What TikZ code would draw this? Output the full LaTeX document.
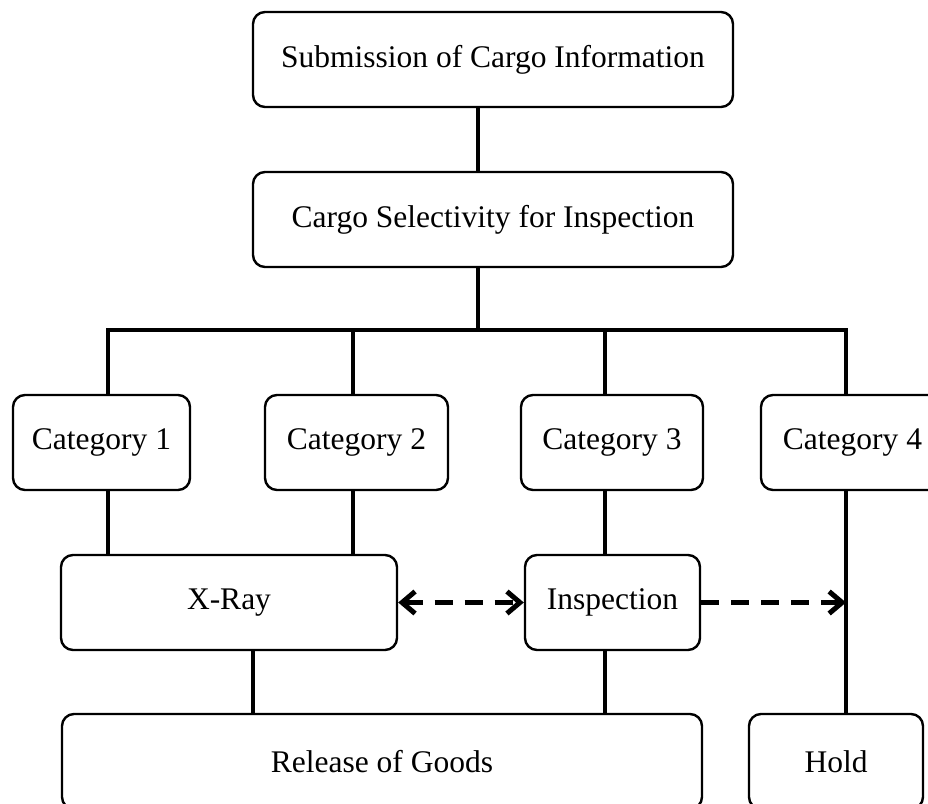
\documentclass[tikz,border=0pt]{standalone}
\usepackage{fontspec}
\setmainfont{Liberation Serif}
\usetikzlibrary{arrows.meta}

\begin{document}
\begin{tikzpicture}
  [x=1pt,y=-1pt,
  box/.style={rectangle,draw,line width=2.4pt,rounded corners=12pt,
    inner sep=0pt,minimum height=95pt,font=\fontsize{31.5}{36}\selectfont},
  link/.style={draw,line width=4.5pt},
  tip/.tip={Straight Barb[length=13pt,width=22pt,line width=5pt,sharp]},
  hop/.style={draw,line width=5pt,dash pattern=on 18pt off 12pt,-tip}]

  \useasboundingbox (0,0) rectangle (928,803);
  \clip (0,0) rectangle (928,803);

  \node[box,minimum width=480pt] (sub) at (493,59.5) {Submission of Cargo Information};
  \node[box,minimum width=480pt] (sel) at (493,219.5) {Cargo Selectivity for Inspection};

  \node[box,minimum width=177pt] (cat1) at (101.5,442.5) {Category 1};
  \node[box,minimum width=183pt] (cat2) at (356.5,442.5) {Category 2};
  \node[box,minimum width=182pt] (cat3) at (612,442.5) {Category 3};
  \node[box,minimum width=183pt] (cat4) at (852.5,442.5) {Category 4};

  \node[box,minimum width=336pt] (xray) at (229,602.5) {X-Ray};
  \node[box,minimum width=175pt] (insp) at (612.5,602.5) {Inspection};

  \node[box,minimum width=640pt] (rel) at (382,761.5) {Release of Goods};
  \node[box,minimum width=174pt] (hold) at (836,761.5) {Hold};

  % bus
  \coordinate (k1) at (108,330);
  \coordinate (k2) at (353,330);
  \coordinate (k3) at (605,330);
  \coordinate (k4) at (846,330);
  \coordinate (k5) at (478,330);

  \draw[link] (k5 |- sub.south) -- (k5 |- sel.north);
  \draw[link] (k5 |- sel.south) -- (k5);
  \draw[link] (k1 |- cat1.north) -- (k1) -- (k4) -- (k4 |- cat4.north);
  \draw[link] (k2) -- (k2 |- cat2.north);
  \draw[link] (k3) -- (k3 |- cat3.north);

  \draw[link] (k1 |- cat1.south) -- (k1 |- xray.north);
  \draw[link] (k2 |- cat2.south) -- (k2 |- xray.north);
  \draw[link] (k3 |- cat3.south) -- (k3 |- insp.north);
  \draw[link] (k4 |- cat4.south) -- (k4 |- hold.north);

  \draw[link] ([xshift=24pt]xray.south) -- ([xshift=24pt]xray.south |- rel.north);
  \draw[link] (k3 |- insp.south) -- (k3 |- rel.north);

  \coordinate (tap) at (k4 |- insp.east);
  \draw[hop,tip-tip] (xray.east) -- (insp.west);
  \draw[hop] (insp.east) -- (tap);
\end{tikzpicture}
\end{document}
